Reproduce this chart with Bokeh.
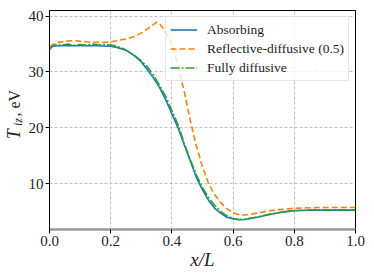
from math import pi
from bokeh.plotting import figure
from bokeh.layouts import row
from bokeh.models import Range1d, FixedTicker, Legend, LegendItem, NumeralTickFormatter
from bokeh.core.properties import value
from bokeh.embed import file_html
from bokeh.resources import INLINE

# ---- data ----
x_abs = [0.0, 0.01, 0.03, 0.05, 0.10, 0.15, 0.20, 0.22, 0.25, 0.28, 0.30, 0.32, 0.34, 0.36,
         0.38, 0.40, 0.42, 0.44, 0.46, 0.48, 0.50, 0.52, 0.54, 0.56, 0.58, 0.60, 0.62, 0.64,
         0.66, 0.68, 0.70, 0.72, 0.75, 0.78, 0.80, 0.85, 0.90, 0.95, 1.0]
t_abs = [34.3, 34.6, 34.7, 34.7, 34.7, 34.7, 34.6, 34.4, 33.9, 32.8, 31.8, 30.4, 28.9, 27.2,
         25.0, 22.5, 20.0, 17.0, 14.1, 11.1, 8.9, 7.0, 5.6, 4.7, 4.0, 3.7, 3.55, 3.6,
         3.8, 4.0, 4.25, 4.5, 4.8, 5.05, 5.15, 5.25, 5.27, 5.27, 5.27]

x_ref = [0.0, 0.01, 0.03, 0.05, 0.08, 0.10, 0.12, 0.15, 0.18, 0.20, 0.22, 0.25, 0.28, 0.30,
         0.32, 0.34, 0.35, 0.36, 0.37, 0.38, 0.39, 0.40, 0.42, 0.44, 0.46, 0.48, 0.50, 0.52,
         0.54, 0.56, 0.58, 0.60, 0.62, 0.64, 0.66, 0.68, 0.70, 0.72, 0.75, 0.78, 0.80, 0.85,
         0.90, 1.0]
t_ref = [34.5, 34.9, 35.3, 35.5, 35.6, 35.5, 35.4, 35.3, 35.3, 35.4, 35.6, 35.9, 36.4, 37.0,
         37.7, 38.5, 38.9, 38.6, 37.9, 37.0, 36.1, 34.9, 31.0, 26.6, 21.3, 16.8, 13.0, 10.0,
         8.0, 6.6, 5.5, 4.8, 4.45, 4.4, 4.55, 4.75, 4.95, 5.15, 5.35, 5.5, 5.6, 5.7,
         5.75, 5.75]

x_dif = [0.0, 0.01, 0.02, 0.04, 0.06, 0.08, 0.10, 0.12, 0.14, 0.16, 0.18, 0.20, 0.22, 0.24,
         0.26, 0.28, 0.30, 0.32, 0.34, 0.36, 0.38, 0.40, 0.42, 0.44, 0.46, 0.48, 0.50, 0.52,
         0.54, 0.56, 0.58, 0.60, 0.62, 0.64, 0.66, 0.68, 0.70, 0.72, 0.75, 0.78, 0.80, 0.85,
         0.90, 0.95, 1.0]
t_dif = [34.0, 34.6, 34.9, 34.8, 35.0, 34.8, 34.9, 34.8, 35.0, 34.8, 34.9, 34.8, 34.6, 34.2,
         33.6, 32.9, 32.0, 30.9, 29.4, 27.6, 25.6, 23.1, 20.6, 17.3, 14.3, 11.6, 9.3, 7.5,
         6.1, 5.0, 4.25, 3.75, 3.6, 3.65, 3.85, 4.05, 4.3, 4.55, 4.85, 5.1, 5.2, 5.3,
         5.32, 5.32, 5.32]

series_names = ["Absorbing", "Reflective-diffusive (0.5)", "Fully diffusive"]
x_ticks = [0.0, 0.2, 0.4, 0.6, 0.8, 1.0]
y_ticks = [10, 20, 30, 40]

SERIF = "Liberation Serif"
TXT = "#222222"
H = 272
BT, BB = 10, 41   # top / bottom borders of the main plot

p = figure(width=341, height=H, output_backend="svg", toolbar_location=None,
           x_range=Range1d(0, 1), y_range=Range1d(1.8, 41.0),
           min_border_left=22, min_border_right=11, min_border_top=BT, min_border_bottom=BB)
p.background_fill_color = "white"
p.border_fill_color = "white"
p.outline_line_color = "black"
p.outline_line_width = 1

for g in (p.xgrid, p.ygrid):
    g.grid_line_color = "#b0b0b0"
    g.grid_line_dash = "3 2"
    g.grid_line_width = 0.8
p.xgrid.ticker = FixedTicker(ticks=x_ticks)
p.ygrid.ticker = FixedTicker(ticks=y_ticks)

p.xaxis.ticker = FixedTicker(ticks=x_ticks)
p.yaxis.ticker = FixedTicker(ticks=y_ticks)
p.xaxis.formatter = NumeralTickFormatter(format="0.0")
for ax in (p.xaxis[0], p.yaxis[0]):
    ax.major_label_text_font = SERIF
    ax.major_label_text_font_size = "15px"
    ax.major_label_text_color = TXT
    ax.major_tick_in = 0
    ax.major_tick_out = 4
    ax.minor_tick_line_color = None
    ax.major_tick_line_color = "black"
p.yaxis.axis_line_color = "black"
p.xaxis.axis_line_color = "#9a9a9a"
p.xaxis.axis_line_width = 2.5
p.xaxis.major_label_standoff = 2
p.yaxis.major_label_standoff = 2

p.xaxis.axis_label = "x/L"
p.xaxis.axis_label_text_font = SERIF
p.xaxis.axis_label_text_font_style = "italic"
p.xaxis.axis_label_text_font_size = "19px"
p.xaxis.axis_label_standoff = 0
p.xaxis.axis_label_text_color = TXT

r_abs = p.line(x_abs, t_abs, line_color="#1f77b4", line_width=1.6)
r_ref = p.line(x_ref, t_ref, line_color="#ff7f0e", line_width=1.6, line_dash="6 3")
r_dif = p.line(x_dif, t_dif, line_color="#2ca02c", line_width=1.6, line_dash="9 2 2 2")

legend = Legend(items=[LegendItem(label=series_names[0], renderers=[r_abs]),
                       LegendItem(label=series_names[1], renderers=[r_ref]),
                       LegendItem(label=series_names[2], renderers=[r_dif])],
                location="top_right", margin=6, padding=4, spacing=2,
                glyph_width=27, glyph_height=17, label_height=17, label_standoff=10,
                label_text_font=SERIF, label_text_font_size="13.5px", label_text_color=TXT,
                background_fill_color="white", background_fill_alpha=0.8,
                border_line_color="#cccccc", border_line_width=1)
p.add_layout(legend)

# ---- y-axis label "T_iz, eV" in a narrow side panel ----
# The row aligns this panel's frame with the main frame, so its y range is set to
# match page pixels: value = H - page_y.
QW = 25
q = figure(width=QW, height=H, output_backend="svg", toolbar_location=None,
           x_axis_location=None, y_axis_location=None,
           x_range=Range1d(0, QW), y_range=Range1d(BB, H - BT),
           min_border=0, min_border_left=0, min_border_right=0, min_border_top=0, min_border_bottom=0)
q.grid.visible = False
q.outline_line_color = None
q.background_fill_color = "white"
q.border_fill_color = "white"
q.text(x=[13.5], y=[H - 135], text=["T"], angle=pi / 2, text_font=value(SERIF),
       text_font_style="italic", text_font_size="18px", text_color=TXT,
       text_align="center", text_baseline="middle")
q.text(x=[17.5], y=[H - 122.5], text=["iz"], angle=pi / 2, text_font=value(SERIF),
       text_font_style="italic", text_font_size="12px", text_color=TXT,
       text_align="center", text_baseline="middle")
q.text(x=[13.5], y=[H - 103.5], text=[", eV"], angle=pi / 2, text_font=value(SERIF),
       text_font_size="16px", text_color=TXT,
       text_align="center", text_baseline="middle")

layout = row(q, p, spacing=0)
open("out.html", "w").write(file_html(layout, INLINE))
